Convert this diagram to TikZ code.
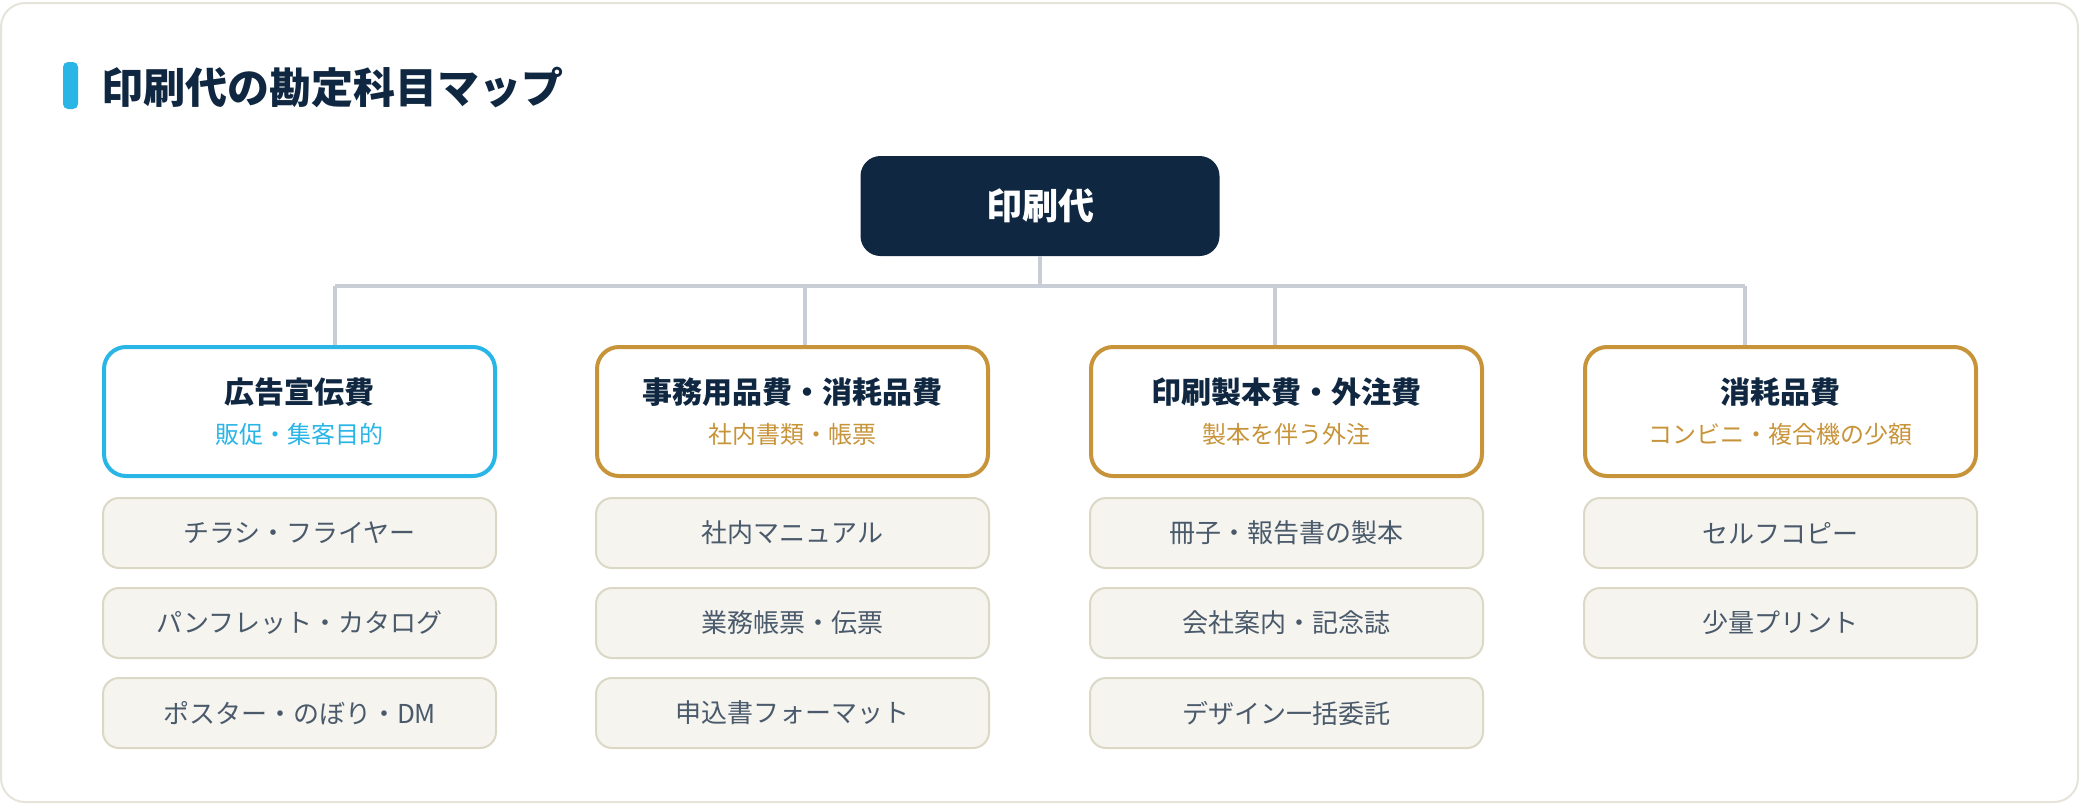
\documentclass[tikz,border=0pt]{standalone}
\usepackage{fontspec}
\setmainfont{Noto Sans CJK JP}
\usetikzlibrary{positioning}

\definecolor{navy}{HTML}{0F2740}
\definecolor{skyblue}{HTML}{29B6E6}
\definecolor{gold}{HTML}{C8943A}
\definecolor{linegray}{HTML}{C8CDD6}
\definecolor{itemfill}{HTML}{F5F4EF}
\definecolor{itemline}{HTML}{DCD8C6}
\definecolor{itemtext}{HTML}{4A5A6B}
\definecolor{framecol}{HTML}{E6E4DA}

\newcommand{\cattext}[3]{{\fontsize{15pt}{18pt}\selectfont\bfseries\color{navy}#1}\\[8pt]{\fontsize{12pt}{14pt}\selectfont\color{#3}#2}}

\tikzset{
  rootbox/.style={fill=navy, text=white, rounded corners=10pt, minimum width=179.5pt, minimum height=50pt, font=\fontsize{18pt}{20pt}\selectfont\bfseries},
  catbox/.style={draw=#1, line width=2pt, fill=white, rounded corners=11pt, minimum width=195.5pt, minimum height=64.5pt, align=center, inner sep=0pt},
  itembox/.style={draw=itemline, line width=1pt, fill=itemfill, rounded corners=8pt, minimum width=196.5pt, minimum height=35pt, text=itemtext, font=\fontsize{13pt}{15pt}\selectfont},
  link/.style={draw=linegray, line width=2pt},
}

\begin{document}
\begin{tikzpicture}[x=0.5pt, y=-0.5pt, node distance=9pt]
    \useasboundingbox (0,0) rectangle (2080,804);
    \draw[framecol, fill=white, line width=1pt, rounded corners=12pt] (1,3) rectangle (2078,802);

    % title
    \fill[skyblue, rounded corners=2.5pt] (63,62) rectangle (78,109);
    \node[anchor=west, inner sep=0pt, text=navy, font=\fontsize{21pt}{24pt}\selectfont\bfseries] (title) at (101,87) {印刷代の勘定科目マップ};

    % root and categories
    \node[rootbox] (root) at (1040,206) {印刷代};
    \node[catbox=skyblue] (cat1) at (299.5,411.5) {\cattext{広告宣伝費}{販促・集客目的}{skyblue}};
    \node[catbox=gold] (cat2) at (792.5,411.5) {\cattext{事務用品費・消耗品費}{社内書類・帳票}{gold}};
    \node[catbox=gold] (cat3) at (1286.5,411.5) {\cattext{印刷製本費・外注費}{製本を伴う外注}{gold}};
    \node[catbox=gold] (cat4) at (1780.5,411.5) {\cattext{消耗品費}{コンビニ・複合機の少額}{gold}};

    % connectors
    \coordinate (bus) at (1040,286);
    \coordinate (busL) at (335,286);
    \coordinate (busR) at (1745,286);
    \draw[link] (root.south) -- (bus);
    \draw[link] (busL) -- (busR);
    \foreach \c/\x in {cat1/335, cat2/805, cat3/1275, cat4/1745} {
        \draw[link] (\x,286) -- (\x,345);
    }

    % items
    \node[itembox, below=9.5pt of cat1] (a1) {チラシ・フライヤー};
    \node[itembox, below=of a1] (a2) {パンフレット・カタログ};
    \node[itembox, below=of a2] (a3) {ポスター・のぼり・DM};

    \node[itembox, below=9.5pt of cat2] (b1) {社内マニュアル};
    \node[itembox, below=of b1] (b2) {業務帳票・伝票};
    \node[itembox, below=of b2] (b3) {申込書フォーマット};

    \node[itembox, below=9.5pt of cat3] (c1) {冊子・報告書の製本};
    \node[itembox, below=of c1] (c2) {会社案内・記念誌};
    \node[itembox, below=of c2] (c3) {デザイン一括委託};

    \node[itembox, below=9.5pt of cat4] (d1) {セルフコピー};
    \node[itembox, below=of d1] (d2) {少量プリント};
\end{tikzpicture}
\end{document}
